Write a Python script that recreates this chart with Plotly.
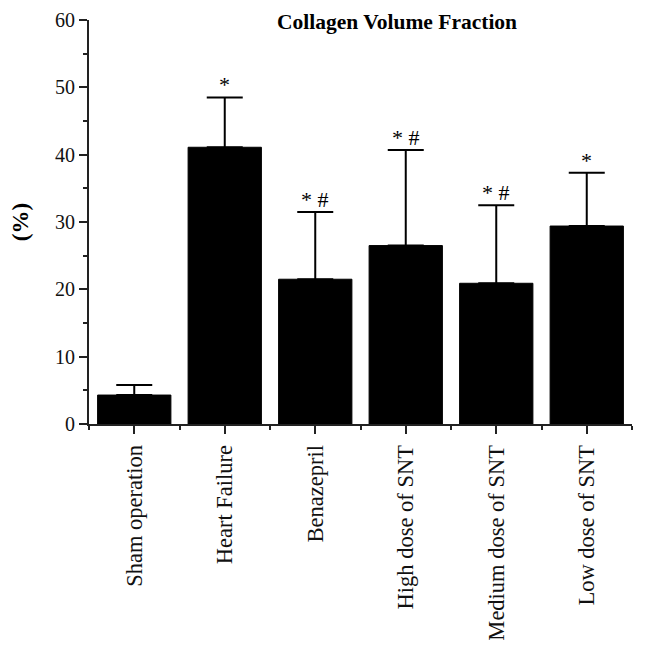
import plotly.graph_objects as go

categories = ["Sham operation", "Heart Failure", "Benazepril",
              "High dose of SNT", "Medium dose of SNT", "Low dose of SNT"]
means = [4.3, 41.1, 21.5, 26.5, 20.9, 29.4]
errors = [1.5, 7.4, 10.0, 14.2, 11.6, 7.9]
marks = ["", "*", "* #", "* #", "* #", "*"]
y_ticks = [0, 10, 20, 30, 40, 50, 60]

FONT = "Liberation Serif"
x_pos = list(range(len(categories)))

fig = go.Figure()
fig.add_trace(go.Bar(
    x=x_pos, y=means,
    marker=dict(color="black", line=dict(color="black", width=1)),
    error_y=dict(type="data", symmetric=False, array=errors,
                 arrayminus=[0] * len(errors),
                 color="black", thickness=2, width=18),
    width=0.81,
))

for xi, m, e, t in zip(x_pos, means, errors, marks):
    if t:
        fig.add_annotation(x=xi, y=m + e, text=t, showarrow=False,
                           yanchor="bottom", yshift=-2,
                           font=dict(family=FONT, size=22, color="black"))

fig.add_annotation(xref="paper", yref="paper", x=0.567, y=0.995,
                   text="<b>Collagen Volume Fraction</b>", showarrow=False,
                   xanchor="center", yanchor="middle",
                   font=dict(family=FONT, size=21.5, color="black"))

fig.update_layout(
    width=647, height=647,
    margin=dict(l=81, r=23, t=12, b=231),
    plot_bgcolor="white", paper_bgcolor="white",
    showlegend=False,
    font=dict(family=FONT, color="black"),
    xaxis=dict(
        automargin=False,
        range=[-0.5, 5.5], tickmode="array", tickvals=x_pos,
        ticktext=categories, tickangle=-90,
        tickfont=dict(family=FONT, size=22.5, color="#111"),
        showline=True, linecolor="#222", linewidth=2,
        ticks="outside", ticklen=8, tickwidth=2, tickcolor="#222",
        showgrid=False, zeroline=False, ticklabelstandoff=2,
        minor=dict(tickmode="array",
                   tickvals=[i - 0.5 for i in range(len(categories) + 1)],
                   ticks="outside", ticklen=4, tickwidth=2, tickcolor="#222"),
    ),
    yaxis=dict(
        automargin=False,
        range=[0, 60], tickmode="array", tickvals=y_ticks,
        tickfont=dict(family=FONT, size=20, color="#111"),
        title=dict(text="<b>(%)</b>", font=dict(family=FONT, size=23, color="black"),
                   standoff=20),
        showline=True, linecolor="#222", linewidth=2,
        ticks="outside", ticklen=8, tickwidth=2, tickcolor="#222",
        showgrid=False, zeroline=False,
        minor=dict(dtick=5, ticks="outside", ticklen=4, tickwidth=2,
                   tickcolor="#222"),
    ),
)

fig.write_html("out.html")
